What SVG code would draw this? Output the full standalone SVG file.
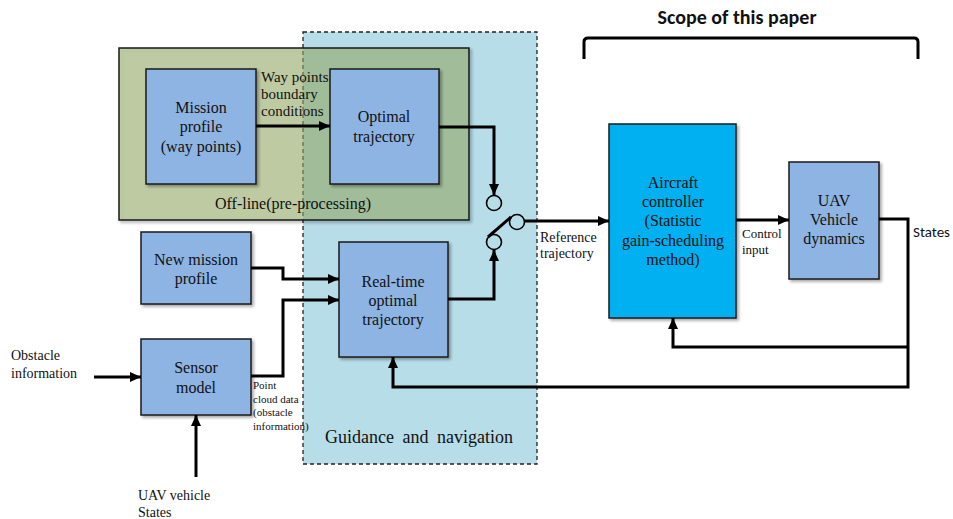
<svg xmlns="http://www.w3.org/2000/svg" width="953" height="519" viewBox="0 0 953 519">
<defs>
<marker id="ah" markerUnits="userSpaceOnUse" markerWidth="11" markerHeight="10" refX="11" refY="5" orient="auto">
<path d="M0,0 L11,5 L0,10 z" fill="#000"/>
</marker>
<filter id="sh" x="-10%" y="-10%" width="130%" height="130%">
<feDropShadow dx="2" dy="2" stdDeviation="1.5" flood-color="#000" flood-opacity="0.35"/>
</filter>
</defs>
<style>
.box{fill:#8eb4e3;stroke:#1a1a1a;stroke-width:1.5;filter:url(#sh)}
.ctl{fill:#00b0f0;stroke:#1a1a1a;stroke-width:1.5;filter:url(#sh)}
.t{font-family:"Liberation Serif","Times New Roman",serif;fill:#111}
.c{text-anchor:middle;font-size:16px}
.s14{font-size:14px}
.s13{font-size:13px}
.s11{font-size:11px}
.ln{fill:none;stroke:#000;stroke-width:3;stroke-linejoin:miter}
.arr{marker-end:url(#ah)}
.sw{fill:none;stroke:#000;stroke-width:1.6}
</style>
<rect width="953" height="519" fill="#fff"/>

<g id="guidance">
<rect x="303" y="32" width="234" height="432" fill="#b7dde8" stroke="#222" stroke-width="1.3" stroke-dasharray="4,3"/>
<text class="t" x="419" y="443" text-anchor="middle" font-size="18" word-spacing="4">Guidance and navigation</text>
</g>

<g id="offline">
<rect x="119" y="48" width="350" height="172" fill="#9bb169" fill-opacity="0.5" stroke="#1a1a1a" stroke-width="1.5" filter="url(#sh)"/>
<text class="t c" x="293" y="209">Off-line(pre-processing)</text>
</g>

<g id="scope">
<path d="M584,59 V42 Q584,38 588,38 H914 Q918,38 918,42 V59" fill="none" stroke="#000" stroke-width="3"/>
<text x="737" y="24" text-anchor="middle" font-family="Carlito,'Liberation Sans',Arial,sans-serif" font-weight="bold" font-size="20" fill="#111">Scope of this paper</text>
</g>

<g id="mission">
<rect class="box" x="146" y="69" width="110" height="115"/>
<text class="t c"><tspan x="201" y="113">Mission</tspan><tspan x="201" y="132">profile</tspan><tspan x="201" y="152">(way points)</tspan></text>
</g>

<g id="optimal">
<rect class="box" x="330" y="69" width="109" height="115"/>
<text class="t c"><tspan x="384" y="122">Optimal</tspan><tspan x="384" y="142">trajectory</tspan></text>
</g>

<g id="newmission">
<rect class="box" x="141" y="232" width="110" height="72"/>
<text class="t c"><tspan x="196" y="265">New mission</tspan><tspan x="196" y="284">profile</tspan></text>
</g>

<g id="sensor">
<rect class="box" x="141" y="339" width="110" height="76"/>
<text class="t c"><tspan x="196" y="373">Sensor</tspan><tspan x="196" y="393">model</tspan></text>
</g>

<g id="realtime">
<rect class="box" x="339" y="242" width="109" height="115"/>
<text class="t c"><tspan x="393" y="287">Real-time</tspan><tspan x="393" y="306">optimal</tspan><tspan x="393" y="325">trajectory</tspan></text>
</g>

<g id="controller">
<rect class="ctl" x="609" y="124" width="127" height="194"/>
<text class="t c"><tspan x="673" y="188">Aircraft</tspan><tspan x="673" y="207">controller</tspan><tspan x="673" y="226">(Statistic</tspan><tspan x="673" y="246">gain-scheduling</tspan><tspan x="673" y="265">method)</tspan></text>
</g>

<g id="uav">
<rect class="box" x="789" y="162" width="90" height="117"/>
<text class="t c"><tspan x="834" y="206">UAV</tspan><tspan x="834" y="225">Vehicle</tspan><tspan x="834" y="244">dynamics</tspan></text>
</g>

<g id="switch">
<circle class="sw" cx="494" cy="203" r="7.5"/>
<circle class="sw" cx="494" cy="242" r="7.5"/>
<circle class="sw" cx="517" cy="222" r="7.5"/>
</g>

<g id="connectors">
<path class="ln arr" d="M256,126 H330"/>
<path class="ln arr" d="M439,127 H494 V195"/>
<path class="ln arr" d="M448,299 H494 V250"/>
<path class="ln" d="M488,237 L511,217"/>
<path class="ln arr" d="M525,221 H609"/>
<path class="ln arr" d="M251,268 H283 V279 H339"/>
<path class="ln arr" d="M251,376 H283 V300 H339"/>
<path class="ln arr" d="M94,377 H141"/>
<path class="ln arr" d="M196,477 V415"/>
<path class="ln arr" d="M736,220 H789"/>
<path class="ln arr" d="M879,219 H908 V387 H393 V357"/>
<path class="ln arr" d="M908,347 H673 V318"/>
</g>

<g id="labels">
<text class="t" font-size="15"><tspan x="261" y="82">Way points</tspan><tspan x="261" y="99">boundary</tspan><tspan x="261" y="116">conditions</tspan></text>
<text class="t s14"><tspan x="540" y="242">Reference</tspan><tspan x="540" y="258">trajectory</tspan></text>
<text class="t s13"><tspan x="742" y="238">Control</tspan><tspan x="742" y="254">input</tspan></text>
<text x="913" y="237" font-family="Carlito,'Liberation Sans',Arial,sans-serif" font-size="15" fill="#111">States</text>
<text class="t s14"><tspan x="11" y="360">Obstacle</tspan><tspan x="11" y="378">information</tspan></text>
<text class="t s14"><tspan x="138" y="500">UAV vehicle</tspan><tspan x="138" y="517">States</tspan></text>
<text class="t s11"><tspan x="253" y="389">Point</tspan><tspan x="253" y="403">cloud data</tspan><tspan x="253" y="416">(obstacle</tspan><tspan x="253" y="430">information)</tspan></text>
</g>
</svg>
